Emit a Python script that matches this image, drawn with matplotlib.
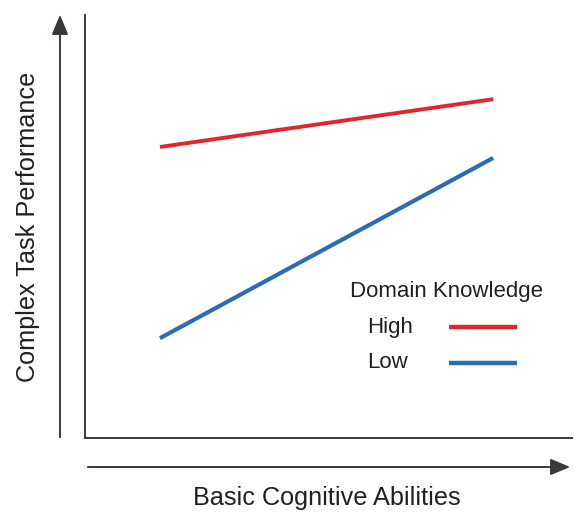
import matplotlib
matplotlib.use("Agg")
import matplotlib.pyplot as plt
from matplotlib.lines import Line2D

plt.rcParams['font.family'] = ['Liberation Sans', 'DejaVu Sans']

# two ability levels (low / high basic cognitive ability), relative units
ability = [0.154, 0.838]
high_knowledge = [0.688, 0.801]
low_knowledge = [0.236, 0.662]
series_names = ["High", "Low"]
red = "#e0272b"
blue = "#2b6cb4"
axis_col = "#3c3839"
txt_col = "#231f20"

W, H = 574, 513
fig = plt.figure(figsize=(W / 100, H / 100), dpi=100)
ax = fig.add_axes([85 / W, 1 - 438 / H, (572 - 85) / W, (438 - 15) / H])

ax.plot(ability, high_knowledge, color=red, lw=2.8, solid_capstyle='butt')
ax.plot(ability, low_knowledge, color=blue, lw=3.0, solid_capstyle='butt')

ax.set_xlim(0, 1)
ax.set_ylim(0, 1)
ax.set_xticks([])
ax.set_yticks([])
for s in ["top", "right"]:
    ax.spines[s].set_visible(False)
for s in ["left", "bottom"]:
    ax.spines[s].set_color(axis_col)
    ax.spines[s].set_linewidth(1.4)

# legend drawn by hand so the labels stay left aligned
fig.text(350 / W, 1 - 292 / H, "Domain Knowledge", ha="left", va="center",
         fontsize=16, color=txt_col)
for name, col, y in zip(series_names, [red, blue], [327, 363]):
    fig.text(367 / W, 1 - y / H, name, ha="left", va="center",
             fontsize=16, color=txt_col)
    fig.add_artist(Line2D([449 / W, 517 / W], [1 - y / H, 1 - y / H],
                          color=col, lw=3.2, solid_capstyle='butt'))

# separate arrows outside the axes
fig.add_artist(matplotlib.patches.FancyArrowPatch(
    (60, H - 440), (60, H - 12), transform=None,
    arrowstyle="-|>,head_length=12,head_width=5", color=axis_col, lw=1.4))
fig.add_artist(matplotlib.patches.FancyArrowPatch(
    (85, H - 467), (573, H - 467), transform=None,
    arrowstyle="-|>,head_length=12,head_width=5", color=axis_col, lw=1.4))

fig.text(28 / W, 1 - 227 / H, "Complex Task Performance", rotation=90,
         ha="center", va="center", fontsize=18.2, color=txt_col)
fig.text(327 / W, 1 - 498 / H, "Basic Cognitive Abilities",
         ha="center", va="center", fontsize=18.2, color=txt_col)

fig.savefig("out.png", dpi=100)
